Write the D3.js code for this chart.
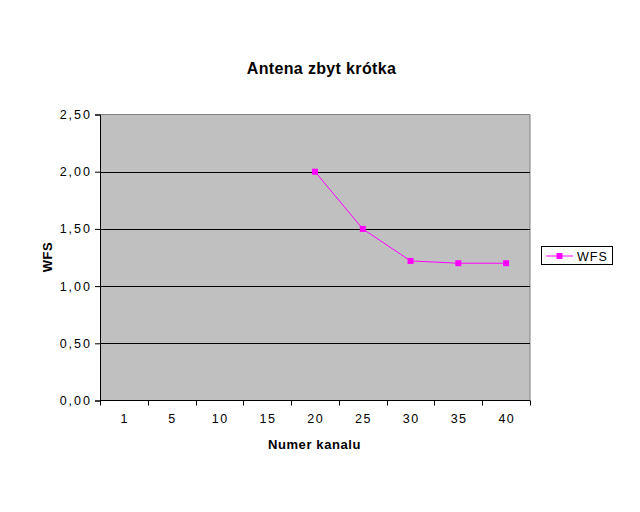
<!DOCTYPE html>
<html><head><meta charset="utf-8">
<script src="https://cdn.jsdelivr.net/npm/d3@7"></script>
<style>body{margin:0;background:#fff}svg{display:block}</style>
</head><body>
<script>
const categories = ["1","5","10","15","20","25","30","35","40"];
const seriesName = "WFS";
const wfsValues = [null,null,null,null,2.00,1.50,1.22,1.20,1.20];
const yTicks = [0,0.5,1.0,1.5,2.0,2.5];
const title = "Antena zbyt krótka";
const xTitle = "Numer kanalu";
const yTitle = "WFS";

const W=640,H=512;
const m={l:100,t:114.5,r:530,b:400.5};
const svg=d3.select("body").append("svg").attr("width",W).attr("height",H);
const font="Liberation Sans, Arial, sans-serif";

const x=d3.scaleBand().domain(categories).range([m.l,m.r]).padding(0);
const y=d3.scaleLinear().domain([0,2.5]).range([m.b,m.t]);

svg.append("rect").attr("x",m.l).attr("y",m.t).attr("width",m.r-m.l).attr("height",m.b-m.t).attr("fill","#c0c0c0");
svg.append("path").attr("d",`M${m.l},${m.t}H${m.r}V${m.b}`).attr("fill","none").attr("stroke","#808080").attr("stroke-width",1);

svg.append("g").selectAll("line").data(yTicks.filter(d=>d>0&&d<2.5)).join("line")
 .attr("x1",m.l).attr("x2",m.r).attr("y1",d=>Math.round(y(d))+0.5).attr("y2",d=>Math.round(y(d))+0.5)
 .attr("stroke","#000").attr("stroke-width",1);

const yAxis=d3.axisLeft(y).tickValues(yTicks).tickSize(5).tickPadding(3)
 .tickFormat(d=>d3.format(".2f")(d).replace(".",","));
const gy=svg.append("g").attr("transform",`translate(${m.l},0)`).call(yAxis);
gy.select(".domain").attr("stroke","#000");
gy.selectAll("text").attr("font-family",font).attr("font-size",12.5).attr("letter-spacing",2).attr("fill","#000");

const xAxis=d3.axisBottom(x).tickSize(0).tickPadding(14);
const gx=svg.append("g").attr("transform",`translate(0,${m.b})`).call(xAxis);
gx.select(".domain").remove();
gx.selectAll("text").attr("font-family",font).attr("font-size",12.5).attr("letter-spacing",1.5).attr("dx",0.75).attr("fill","#000");
svg.append("line").attr("x1",m.l).attr("x2",m.r).attr("y1",m.b).attr("y2",m.b).attr("stroke","#000");
const bounds=categories.map(c=>x(c)).concat([x(categories[categories.length-1])+x.bandwidth()]);
svg.append("g").selectAll("line").data(bounds).join("line")
 .attr("x1",d=>Math.round(d)+0.5).attr("x2",d=>Math.round(d)+0.5).attr("y1",m.b).attr("y2",m.b+5).attr("stroke","#000");

const pts=categories.map((c,i)=>({c,v:wfsValues[i]})).filter(d=>d.v!=null);
const line=d3.line().x(d=>x(d.c)+x.bandwidth()/2).y(d=>y(d.v));
svg.append("path").datum(pts).attr("d",line).attr("fill","none").attr("stroke","#ff00ff").attr("stroke-width",1);
svg.append("g").selectAll("rect").data(pts).join("rect")
 .attr("x",d=>x(d.c)+x.bandwidth()/2-3).attr("y",d=>y(d.v)-3).attr("width",6).attr("height",6).attr("fill","#ff00ff");

svg.append("text").attr("x",321.5).attr("y",74).attr("text-anchor","middle").attr("font-family",font).attr("font-size",16).attr("font-weight","bold").attr("letter-spacing",0.35).text(title);
svg.append("text").attr("x",314.5).attr("y",448.5).attr("text-anchor","middle").attr("font-family",font).attr("font-size",13).attr("font-weight","bold").attr("letter-spacing",0.6).text(xTitle);
svg.append("text").attr("transform","translate(52,257) rotate(-90)").attr("text-anchor","middle").attr("font-family",font).attr("font-size",13).attr("font-weight","bold").attr("letter-spacing",0.6).text(yTitle);

const lg=svg.append("g");
lg.append("rect").attr("x",541.5).attr("y",246.5).attr("width",71).attr("height",18).attr("fill","#fff").attr("stroke","#000");
lg.append("line").attr("x1",546).attr("x2",573).attr("y1",256).attr("y2",256).attr("stroke","#ff00ff");
lg.append("rect").attr("x",556.5).attr("y",253).attr("width",6).attr("height",6).attr("fill","#ff00ff");
lg.append("text").attr("x",577).attr("y",260.5).attr("font-family",font).attr("font-size",12.5).attr("letter-spacing",1).text(seriesName);
</script>
</body></html>
